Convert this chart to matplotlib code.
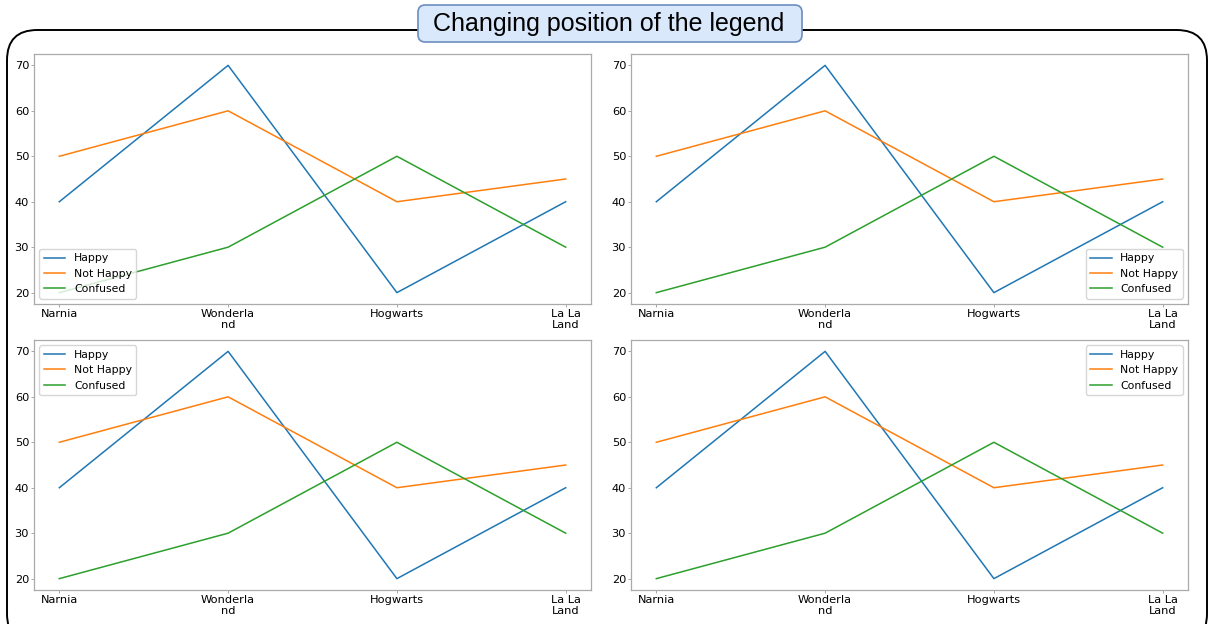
import matplotlib
matplotlib.use('Agg')
import matplotlib.pyplot as plt
from matplotlib.patches import FancyBboxPatch

places = ['Narnia', 'Wonderla\nnd', 'Hogwarts', 'La La\nLand']
happy = [40, 70, 20, 40]
not_happy = [50, 60, 40, 45]
confused = [20, 30, 50, 30]
legend_locs = ['lower left', 'lower right', 'upper left', 'upper right']

W, H = 1211, 624
fig = plt.figure(figsize=(W / 100, H / 100), dpi=100)

# outer rounded frame
frame = FancyBboxPatch((7 / W, -20 / H), 1200 / W, 614 / H,
                       boxstyle="round,pad=0,rounding_size=0.025",
                       transform=fig.transFigure, facecolor='none',
                       edgecolor='black', linewidth=1.4, mutation_aspect=W / H,
                       zorder=-1)
fig.patches.append(frame)

# title box
title_box = FancyBboxPatch((418 / W, 1 - 42 / H), 384 / W, 37 / H,
                           boxstyle="round,pad=0,rounding_size=0.006",
                           transform=fig.transFigure, facecolor='#dae8fc',
                           edgecolor='#6c8ebf', linewidth=1.2, mutation_aspect=W / H,
                           zorder=5)
fig.patches.append(title_box)
fig.text(609 / W, 1 - 24 / H, 'Changing position of the legend', ha='center',
         va='center', fontsize=18, family='Liberation Sans', zorder=6)

# axes positions in pixels: left, top, right, bottom
boxes = [(34, 54, 591, 304), (631, 54, 1188, 304),
         (34, 340, 591, 590), (631, 340, 1188, 590)]

for (l, t, r, b), loc in zip(boxes, legend_locs):
    ax = fig.add_axes([l / W, 1 - b / H, (r - l) / W, (b - t) / H])
    x = range(len(places))
    ax.plot(x, happy, color='#1f77b4', lw=1.1, label='Happy')
    ax.plot(x, not_happy, color='#ff7f0e', lw=1.1, label='Not Happy')
    ax.plot(x, confused, color='#2ca02c', lw=1.1, label='Confused')
    ax.set_xticks(list(x))
    ax.set_xticklabels(places)
    ax.set_yticks([20, 30, 40, 50, 60, 70])
    ax.tick_params(labelsize=8.2, length=2, width=0.6, color='#999999', pad=1.5)
    for s in ax.spines.values():
        s.set_color('#aaaaaa')
        s.set_linewidth(0.9)
    ax.legend(loc=loc, fontsize=7.8)

fig.savefig('out.png', dpi=100)
